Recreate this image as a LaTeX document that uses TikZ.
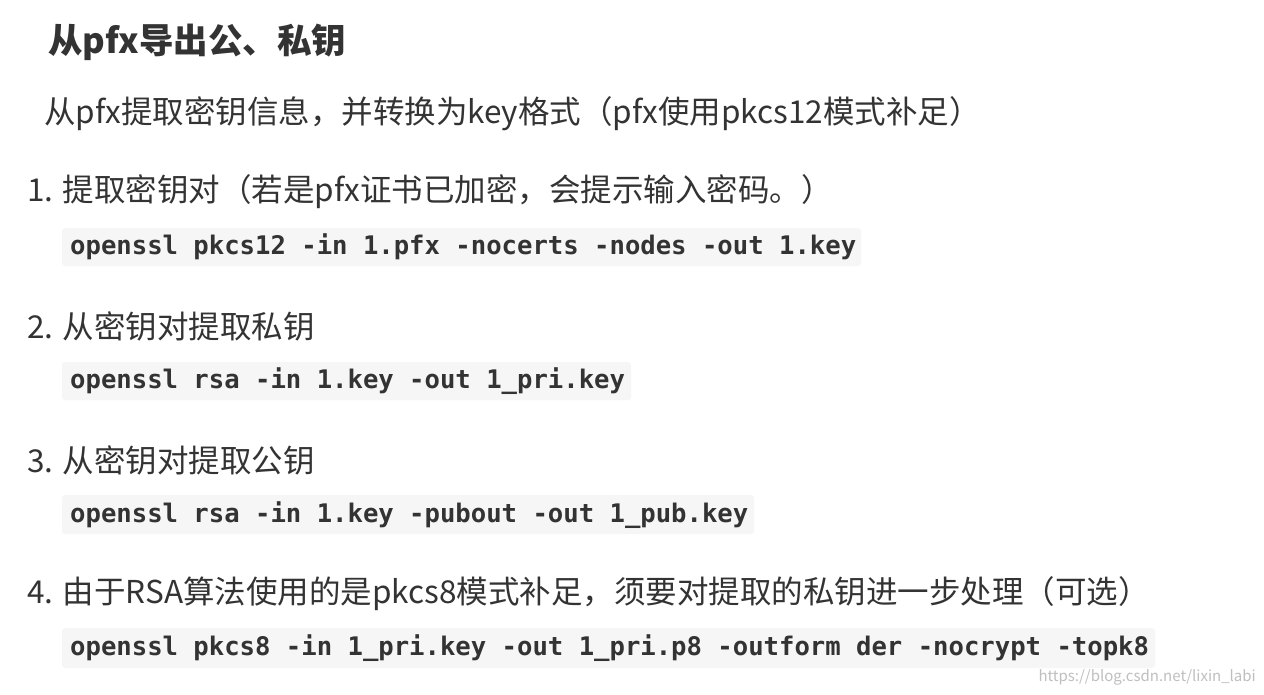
\documentclass[tikz,border=0pt]{standalone}
\usepackage{fontspec}
\setmainfont{Noto Sans CJK SC}
\newfontfamily\codef{DejaVu Sans Mono}
\definecolor{codebg}{HTML}{F6F6F6}
\definecolor{txt}{HTML}{333333}
\begin{document}
\begin{tikzpicture}[x=1pt,y=-1pt,
  body/.style={anchor=west,inner sep=0,text=txt,font=\fontsize{31.5}{34}\selectfont},
  code/.style={anchor=west,inner sep=0,text=txt,font=\codef\bfseries\fontsize{25.6}{28}\selectfont},
  box/.style={fill=codebg,rounded corners=3pt}]
\useasboundingbox[fill=white] (0,0) rectangle (1264,694);
\node[body,font=\bfseries\fontsize{34.5}{37}\selectfont] (t) at (48,42) {从pfx导出公、私钥};
\node[body] (p) at (44,114) {从pfx提取密钥信息，并转换为key格式（pfx使用pkcs12模式补足）};
\node[body] (s1) at (27,192) {1. 提取密钥对（若是pfx证书已加密，会提示输入密码。）};
\fill[box] (62,228) rectangle (861,266);
\node[code] (c1) at (70,247) {openssl pkcs12 -in 1.pfx -nocerts -nodes -out 1.key};
\node[body] (s2) at (27,326) {2. 从密钥对提取私钥};
\fill[box] (62,362) rectangle (631,400);
\node[code] (c2) at (70,381) {openssl rsa -in 1.key -out 1\_pri.key};
\node[body] (s3) at (27,460) {3. 从密钥对提取公钥};
\fill[box] (62,495) rectangle (754,534);
\node[code] (c3) at (70,515) {openssl rsa -in 1.key -pubout -out 1\_pub.key};
\node[body] (s4) at (27,594) {4. 由于RSA算法使用的是pkcs8模式补足，须要对提取的私钥进一步处理（可选）};
\fill[box] (62,628) rectangle (1155,668);
\node[code] (c4) at (70,648) {openssl pkcs8 -in 1\_pri.key -out 1\_pri.p8 -outform der -nocrypt -topk8};
\node[anchor=east,inner sep=0,text=black!25,font=\fontsize{15}{16}\selectfont] (w) at (1256,677) {https://blog.csdn.net/lixin\_labi};
\end{tikzpicture}
\end{document}
